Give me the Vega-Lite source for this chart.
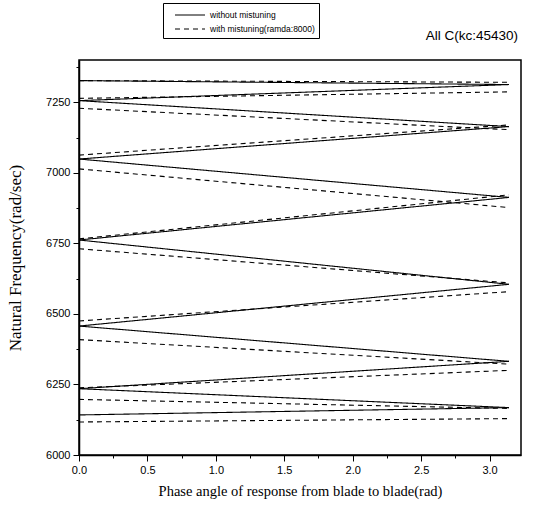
{
  "$schema": "https://vega.github.io/schema/vega-lite/v6.json",
  "width": 442,
  "height": 395,
  "autosize": {"type": "none"},
  "padding": {"left": 79, "top": 60, "right": 18, "bottom": 51},
  "background": "white",
  "title": {"text": "All C(kc:45430)", "anchor": "end", "orient": "top", "offset": -51, "dx": -3, "font": "Liberation Sans", "fontSize": 13.5, "fontWeight": "normal", "color": "black", "baseline": "alphabetic"},
  "config": {
    "view": {"stroke": "black", "strokeWidth": 1.5},
    "axis": {"grid": false, "domainColor": "black", "domainWidth": 1.5, "tickColor": "black", "tickWidth": 1, "labelColor": "black", "labelFont": "Liberation Sans", "labelFontSize": 11, "titleColor": "black", "titleFont": "Liberation Serif", "titleFontWeight": "normal", "labelFlush": false}
  },
  "data": {"values": [
    {"seg": "S1", "series": "without mistuning", "phase": 0, "freq": 6142},
    {"seg": "S1", "series": "without mistuning", "phase": 3.1416, "freq": 6168},
    {"seg": "S2", "series": "without mistuning", "phase": 0, "freq": 6235},
    {"seg": "S2", "series": "without mistuning", "phase": 3.1416, "freq": 6168},
    {"seg": "S3", "series": "without mistuning", "phase": 0, "freq": 6235},
    {"seg": "S3", "series": "without mistuning", "phase": 3.1416, "freq": 6332},
    {"seg": "S4", "series": "without mistuning", "phase": 0, "freq": 6457},
    {"seg": "S4", "series": "without mistuning", "phase": 3.1416, "freq": 6332},
    {"seg": "S5", "series": "without mistuning", "phase": 0, "freq": 6457},
    {"seg": "S5", "series": "without mistuning", "phase": 3.1416, "freq": 6605},
    {"seg": "S6", "series": "without mistuning", "phase": 0, "freq": 6762},
    {"seg": "S6", "series": "without mistuning", "phase": 3.1416, "freq": 6605},
    {"seg": "S7", "series": "without mistuning", "phase": 0, "freq": 6762},
    {"seg": "S7", "series": "without mistuning", "phase": 3.1416, "freq": 6913},
    {"seg": "S8", "series": "without mistuning", "phase": 0, "freq": 7049},
    {"seg": "S8", "series": "without mistuning", "phase": 3.1416, "freq": 6913},
    {"seg": "S9", "series": "without mistuning", "phase": 0, "freq": 7049},
    {"seg": "S9", "series": "without mistuning", "phase": 3.1416, "freq": 7164},
    {"seg": "S10", "series": "without mistuning", "phase": 0, "freq": 7256},
    {"seg": "S10", "series": "without mistuning", "phase": 3.1416, "freq": 7164},
    {"seg": "S11", "series": "without mistuning", "phase": 0, "freq": 7256},
    {"seg": "S11", "series": "without mistuning", "phase": 3.1416, "freq": 7313},
    {"seg": "S12", "series": "without mistuning", "phase": 0, "freq": 7327},
    {"seg": "S12", "series": "without mistuning", "phase": 3.1416, "freq": 7313},
    {"seg": "D1", "series": "with mistuning(ramda:8000)", "phase": 0, "freq": 6117},
    {"seg": "D1", "series": "with mistuning(ramda:8000)", "phase": 3.1416, "freq": 6129},
    {"seg": "D2", "series": "with mistuning(ramda:8000)", "phase": 0, "freq": 6197},
    {"seg": "D2", "series": "with mistuning(ramda:8000)", "phase": 3.1416, "freq": 6165},
    {"seg": "D3", "series": "with mistuning(ramda:8000)", "phase": 0, "freq": 6238},
    {"seg": "D3", "series": "with mistuning(ramda:8000)", "phase": 3.1416, "freq": 6300},
    {"seg": "D4", "series": "with mistuning(ramda:8000)", "phase": 0, "freq": 6409},
    {"seg": "D4", "series": "with mistuning(ramda:8000)", "phase": 3.1416, "freq": 6322},
    {"seg": "D5", "series": "with mistuning(ramda:8000)", "phase": 0, "freq": 6475},
    {"seg": "D5", "series": "with mistuning(ramda:8000)", "phase": 3.1416, "freq": 6579},
    {"seg": "D6", "series": "with mistuning(ramda:8000)", "phase": 0, "freq": 6731},
    {"seg": "D6", "series": "with mistuning(ramda:8000)", "phase": 3.1416, "freq": 6610},
    {"seg": "D7", "series": "with mistuning(ramda:8000)", "phase": 0, "freq": 6766},
    {"seg": "D7", "series": "with mistuning(ramda:8000)", "phase": 3.1416, "freq": 6922},
    {"seg": "D8", "series": "with mistuning(ramda:8000)", "phase": 0, "freq": 7014},
    {"seg": "D8", "series": "with mistuning(ramda:8000)", "phase": 3.1416, "freq": 6877},
    {"seg": "D9", "series": "with mistuning(ramda:8000)", "phase": 0, "freq": 7063},
    {"seg": "D9", "series": "with mistuning(ramda:8000)", "phase": 3.1416, "freq": 7170},
    {"seg": "D10", "series": "with mistuning(ramda:8000)", "phase": 0, "freq": 7229},
    {"seg": "D10", "series": "with mistuning(ramda:8000)", "phase": 3.1416, "freq": 7153},
    {"seg": "D11", "series": "with mistuning(ramda:8000)", "phase": 0, "freq": 7264},
    {"seg": "D11", "series": "with mistuning(ramda:8000)", "phase": 3.1416, "freq": 7287},
    {"seg": "D12", "series": "with mistuning(ramda:8000)", "phase": 0, "freq": 7327},
    {"seg": "D12", "series": "with mistuning(ramda:8000)", "phase": 3.1416, "freq": 7321}
  ]},
  "mark": {"type": "line", "color": "black", "strokeWidth": 1.1},
  "encoding": {
    "x": {
      "field": "phase", "type": "quantitative",
      "scale": {"domain": [0, 3.23], "nice": false, "zero": false},
      "axis": {
        "title": "Phase angle of response from blade to blade(rad)",
        "titleFontSize": 14.5, "titlePadding": 9,
        "values": [0, 0.25, 0.5, 0.75, 1, 1.25, 1.5, 1.75, 2, 2.25, 2.5, 2.75, 3],
        "labelExpr": "(datum.value * 4) % 2 === 0 ? format(datum.value, '.1f') : ''",
        "tickSize": {"condition": {"test": "(datum.value * 4) % 2 !== 0", "value": 3}, "value": 6},
        "labelPadding": 3
      }
    },
    "y": {
      "field": "freq", "type": "quantitative",
      "scale": {"domain": [6000, 7400], "nice": false, "zero": false},
      "axis": {
        "title": "Natural Frequency(rad/sec)",
        "titleFontSize": 17, "titlePadding": 21,
        "values": [6000, 6125, 6250, 6375, 6500, 6625, 6750, 6875, 7000, 7125, 7250, 7375],
        "labelExpr": "datum.value % 250 === 0 ? format(datum.value, 'd') : ''",
        "tickSize": {"condition": {"test": "datum.value % 250 !== 0", "value": 3}, "value": 6},
        "labelPadding": 3
      }
    },
    "detail": {"field": "seg", "type": "nominal"},
    "strokeDash": {
      "field": "series", "type": "nominal",
      "scale": {"domain": ["without mistuning", "with mistuning(ramda:8000)"], "range": [[1, 0], [5, 4]]},
      "legend": {
        "title": null, "orient": "none", "legendX": 84, "legendY": -57,
        "strokeColor": "black", "fillColor": "white", "padding": 4,
        "symbolType": "M-2,0H2", "symbolSize": 225, "symbolOffset": 15, "symbolStrokeWidth": 1, "symbolStrokeColor": "black",
        "labelFont": "Liberation Sans", "labelFontSize": 8.5, "labelColor": "black", "rowPadding": 1, "labelOffset": 12
      }
    }
  }
}
